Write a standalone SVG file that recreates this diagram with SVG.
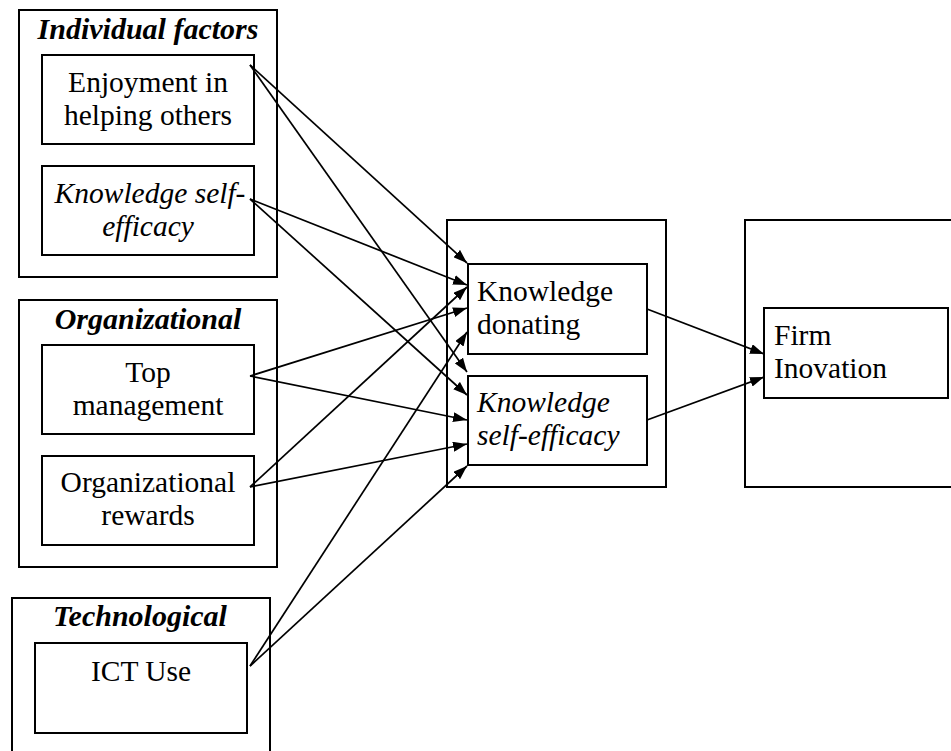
<svg xmlns="http://www.w3.org/2000/svg" width="951" height="751" viewBox="0 0 951 751">
<style>
.box{fill:none;stroke:#000;stroke-width:2}
.ln{stroke:#000;stroke-width:1.7;fill:none;marker-end:url(#ah)}
</style>
<defs>
<marker id="ah" viewBox="0 0 14 10" refX="14" refY="5" markerWidth="14" markerHeight="10" markerUnits="userSpaceOnUse" orient="auto">
<path d="M0,0 L14,5 L0,10 z" fill="#000"/>
</marker>
</defs>
<rect width="951" height="751" fill="#fff"/>
<g id="individual-factors">
<rect class="box" x="19" y="10" width="258" height="267"/>
<text x="148" y="39" text-anchor="middle" style="font-family:'Liberation Serif',serif;font-size:30px;font-weight:bold;font-style:italic">Individual factors</text>
</g>
<g id="enjoyment">
<rect class="box" x="42" y="55" width="212" height="89"/>
<text x="148" y="92" text-anchor="middle" style="font-family:'Liberation Serif',serif;font-size:29.5px">Enjoyment in</text>
<text x="148" y="125" text-anchor="middle" style="font-family:'Liberation Serif',serif;font-size:29.5px">helping others</text>
</g>
<g id="kse-left">
<rect class="box" x="42" y="166" width="212" height="89"/>
<text x="150" y="203" text-anchor="middle" style="font-family:'Liberation Serif',serif;font-size:29.5px;font-style:italic">Knowledge self-</text>
<text x="148" y="236" text-anchor="middle" style="font-family:'Liberation Serif',serif;font-size:29.5px;font-style:italic">efficacy</text>
</g>
<g id="organizational">
<rect class="box" x="19" y="300" width="258" height="267"/>
<text x="148" y="329" text-anchor="middle" style="font-family:'Liberation Serif',serif;font-size:30px;font-weight:bold;font-style:italic">Organizational</text>
</g>
<g id="top-management">
<rect class="box" x="42" y="345" width="212" height="89"/>
<text x="148" y="382" text-anchor="middle" style="font-family:'Liberation Serif',serif;font-size:29.5px">Top</text>
<text x="148" y="415" text-anchor="middle" style="font-family:'Liberation Serif',serif;font-size:29.5px">management</text>
</g>
<g id="org-rewards">
<rect class="box" x="42" y="456" width="212" height="89"/>
<text x="148" y="492" text-anchor="middle" style="font-family:'Liberation Serif',serif;font-size:29.5px">Organizational</text>
<text x="148" y="525" text-anchor="middle" style="font-family:'Liberation Serif',serif;font-size:29.5px">rewards</text>
</g>
<g id="technological">
<rect class="box" x="12" y="598" width="258" height="170"/>
<text x="140" y="626" text-anchor="middle" style="font-family:'Liberation Serif',serif;font-size:30px;font-weight:bold;font-style:italic">Technological</text>
</g>
<g id="ict-use">
<rect class="box" x="35" y="643" width="212" height="90"/>
<text x="141" y="681" text-anchor="middle" style="font-family:'Liberation Serif',serif;font-size:29.5px">ICT Use</text>
</g>
<g id="mediators">
<rect class="box" x="447" y="220" width="219" height="267"/>
</g>
<g id="knowledge-donating">
<rect class="box" x="468" y="264" width="179" height="90"/>
<text x="477" y="301" style="font-family:'Liberation Serif',serif;font-size:29.5px">Knowledge</text>
<text x="477" y="334" style="font-family:'Liberation Serif',serif;font-size:29.5px">donating</text>
</g>
<g id="kse-mid">
<rect class="box" x="468" y="376" width="179" height="89"/>
<text x="477" y="412" style="font-family:'Liberation Serif',serif;font-size:29.5px;font-style:italic">Knowledge</text>
<text x="477" y="445" style="font-family:'Liberation Serif',serif;font-size:29.5px;font-style:italic">self-efficacy</text>
</g>
<g id="outcome">
<rect class="box" x="745" y="220" width="220" height="267"/>
</g>
<g id="firm-inovation">
<rect class="box" x="764" y="308" width="184" height="90"/>
<text x="774" y="345" style="font-family:'Liberation Serif',serif;font-size:29.5px">Firm</text>
<text x="774" y="378" style="font-family:'Liberation Serif',serif;font-size:29.5px">Inovation</text>
</g>
<g id="connectors">
<line class="ln" x1="250" y1="65" x2="467" y2="263"/>
<line class="ln" x1="250" y1="65" x2="467" y2="372"/>
<line class="ln" x1="250" y1="199" x2="467" y2="285"/>
<line class="ln" x1="250" y1="199" x2="467" y2="395"/>
<line class="ln" x1="250" y1="376" x2="467" y2="308"/>
<line class="ln" x1="250" y1="376" x2="467" y2="420"/>
<line class="ln" x1="250" y1="487" x2="467" y2="287"/>
<line class="ln" x1="250" y1="487" x2="467" y2="444"/>
<line class="ln" x1="250" y1="666" x2="467" y2="332"/>
<line class="ln" x1="250" y1="666" x2="467" y2="466"/>
<line class="ln" x1="647" y1="309" x2="764" y2="354"/>
<line class="ln" x1="647" y1="420" x2="764" y2="377"/>
</g>
</svg>
